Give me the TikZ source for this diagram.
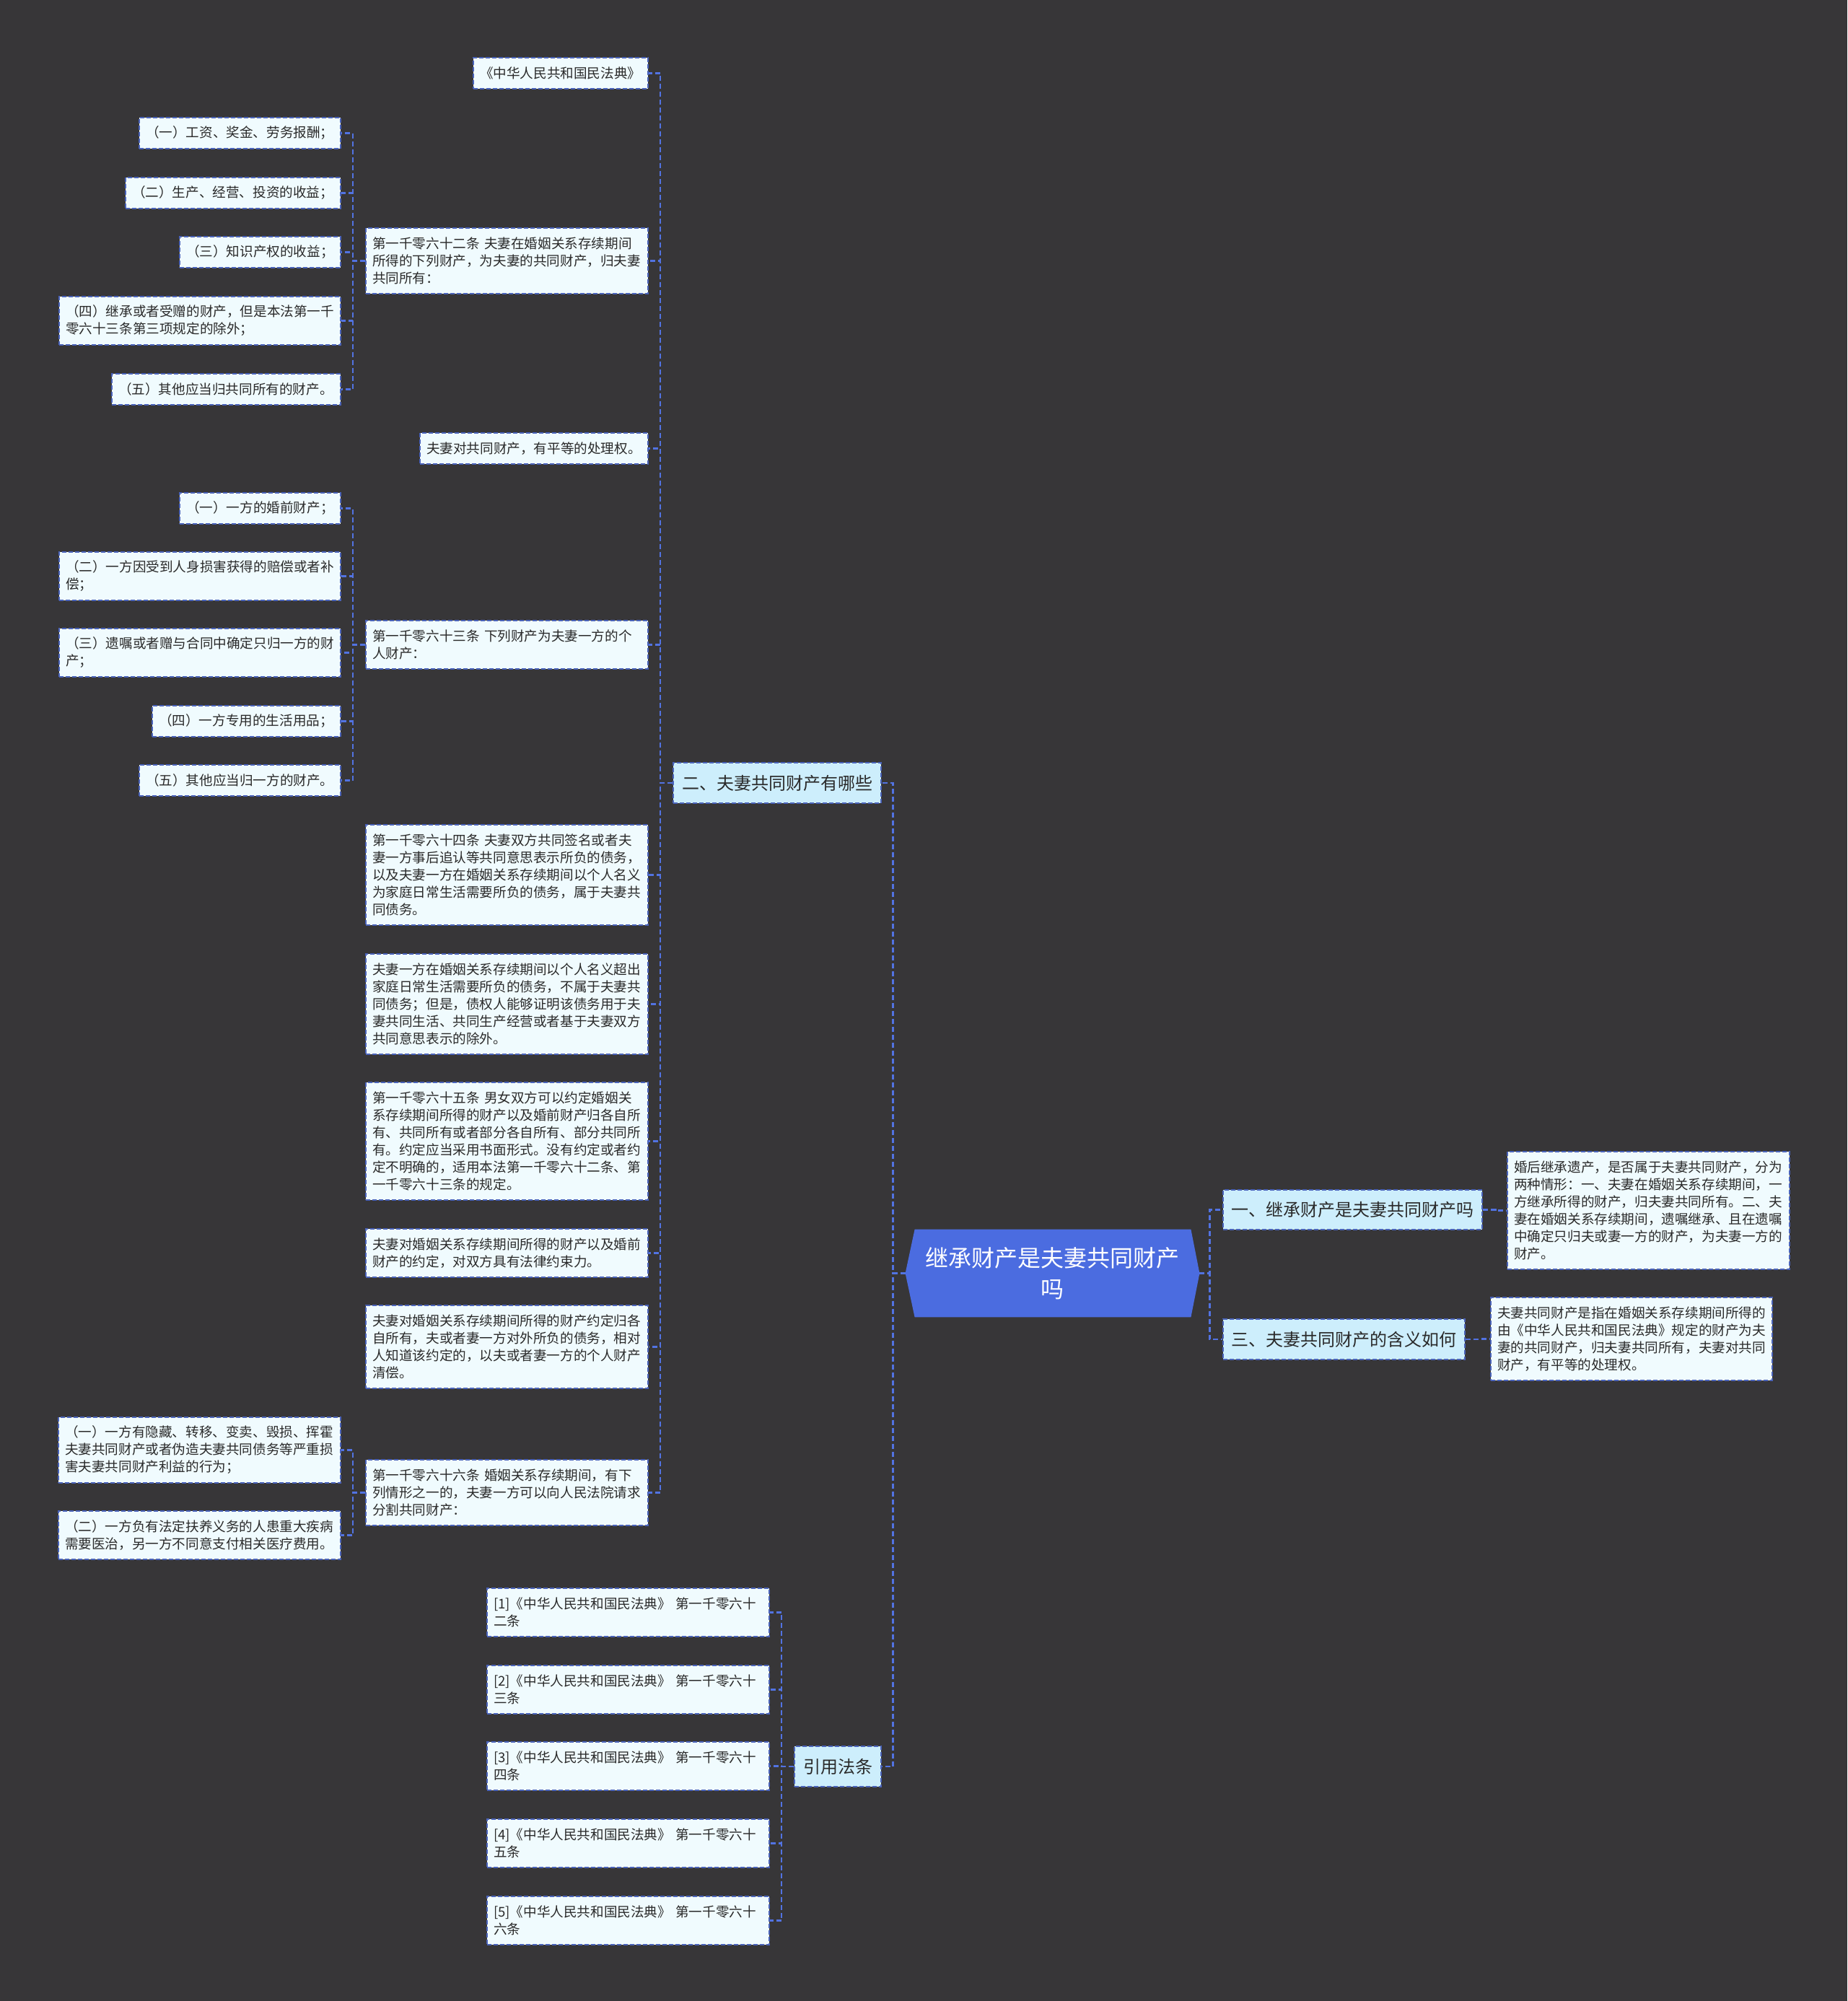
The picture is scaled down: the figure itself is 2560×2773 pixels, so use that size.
\documentclass[tikz,border=0pt]{standalone}
\usepackage{fontspec}
\setmainfont{Noto Sans CJK SC}
\definecolor{bgc}{HTML}{373638}
\definecolor{rootc}{HTML}{4B6CE0}
\definecolor{bordc}{HTML}{4A63BA}
\definecolor{connc}{HTML}{5273E2}
\definecolor{leaff}{HTML}{F0FBFE}
\definecolor{topf}{HTML}{CDEEFC}
\definecolor{txtc}{HTML}{2A2A2A}
\pgfdeclarelayer{background}
\pgfsetlayers{background,main}
\begin{document}
\begin{tikzpicture}[x=0.5pt,y=-0.5pt,
  leaf/.style={draw=bordc, dash pattern=on 3pt off 1.5pt, line width=1pt, fill=leaff,
    text=txtc, anchor=north west, align=left, inner xsep=4.5pt, inner ysep=0pt,
    font=\fontsize{9.3pt}{12pt}\selectfont},
  topic/.style={draw=bordc, dash pattern=on 3pt off 1.5pt, line width=1pt, fill=topf,
    text=txtc, anchor=north west, align=center, inner sep=0pt,
    font=\fontsize{12pt}{14pt}\selectfont},
  rootn/.style={text=white, align=center, inner sep=0pt,
    font=\fontsize{16pt}{21.5pt}\selectfont},
  conn/.style={draw=connc, line width=1.2pt, dash pattern=on 3.5pt off 2pt}
]
\useasboundingbox (0,0) rectangle (2560,2773);

% root
\node[rootn, minimum width=203.5pt, minimum height=60.5pt] (root) at (1458.5,1764.5) {继承财产是夫妻共同财产\\吗};
\begin{pgfonlayer}{background}
\fill[bgc] (0,0) rectangle (2560,2773);
\fill[rootc] (root.west) -- ([xshift=6.5pt]root.north west) -- ([xshift=-6pt]root.north east)
  -- (root.east) -- ([xshift=-6pt]root.south east) -- ([xshift=6.5pt]root.south west) -- cycle;
\end{pgfonlayer}

% level 1
\node[topic, minimum width=144pt, minimum height=28pt] (t2) at (932,1056) {二、夫妻共同财产有哪些};
\node[topic, minimum width=60pt, minimum height=28pt] (tref) at (1100,2419) {引用法条};
\node[topic, minimum width=179.5pt, minimum height=27.5pt] (t1) at (1694,1648) {一、继承财产是夫妻共同财产吗};
\node[topic, minimum width=167.5pt, minimum height=28pt] (t3) at (1694,1827) {三、夫妻共同财产的含义如何};

% right details
\node[leaf, text width=186.5pt, minimum height=81.5pt] (ra) at (2088,1595) {婚后继承遗产，是否属于夫妻共同财产，分为\\两种情形：一、夫妻在婚姻关系存续期间，一\\方继承所得的财产，归夫妻共同所有。二、夫\\妻在婚姻关系存续期间，遗嘱继承、且在遗嘱\\中确定只归夫或妻一方的财产，为夫妻一方的\\财产。};
\node[leaf, text width=186pt, minimum height=57.5pt] (rb) at (2065,1797) {夫妻共同财产是指在婚姻关系存续期间所得的\\由《中华人民共和国民法典》规定的财产为夫\\妻的共同财产，归夫妻共同所有，夫妻对共同\\财产，有平等的处理权。};

% level 2 under t2
\node[leaf, text width=112pt, minimum height=21.5pt] (n1) at (655,79) {《中华人民共和国民法典》};
\node[leaf, text width=186.5pt, minimum height=45.5pt] (n2) at (506,315) {第一千零六十二条~夫妻在婚姻关系存续期间\\所得的下列财产，为夫妻的共同财产，归夫妻\\共同所有：};
\node[leaf, text width=149pt, minimum height=21.5pt] (n3) at (581,599) {夫妻对共同财产，有平等的处理权。};
\node[leaf, text width=186.5pt, minimum height=33.5pt] (n4) at (506,859) {第一千零六十三条~下列财产为夫妻一方的个\\人财产：};
\node[leaf, text width=186.5pt, minimum height=69.5pt] (n5) at (506,1142) {第一千零六十四条~夫妻双方共同签名或者夫\\妻一方事后追认等共同意思表示所负的债务，\\以及夫妻一方在婚姻关系存续期间以个人名义\\为家庭日常生活需要所负的债务，属于夫妻共\\同债务。};
\node[leaf, text width=186.5pt, minimum height=69.5pt] (n6) at (506,1321) {夫妻一方在婚姻关系存续期间以个人名义超出\\家庭日常生活需要所负的债务，不属于夫妻共\\同债务；但是，债权人能够证明该债务用于夫\\妻共同生活、共同生产经营或者基于夫妻双方\\共同意思表示的除外。};
\node[leaf, text width=186.5pt, minimum height=81.5pt] (n7) at (506,1499) {第一千零六十五条~男女双方可以约定婚姻关\\系存续期间所得的财产以及婚前财产归各自所\\有、共同所有或者部分各自所有、部分共同所\\有。约定应当采用书面形式。没有约定或者约\\定不明确的，适用本法第一千零六十二条、第\\一千零六十三条的规定。};
\node[leaf, text width=186.5pt, minimum height=33.5pt] (n8) at (506,1702) {夫妻对婚姻关系存续期间所得的财产以及婚前\\财产的约定，对双方具有法律约束力。};
\node[leaf, text width=186.5pt, minimum height=57.5pt] (n9) at (506,1808) {夫妻对婚姻关系存续期间所得的财产约定归各\\自所有，夫或者妻一方对外所负的债务，相对\\人知道该约定的，以夫或者妻一方的个人财产\\清偿。};
\node[leaf, text width=186.5pt, minimum height=45.5pt] (n10) at (506,2022) {第一千零六十六条~婚姻关系存续期间，有下\\列情形之一的，夫妻一方可以向人民法院请求\\分割共同财产：};

% level 3 under n2
\node[leaf, text width=130.5pt, minimum height=21.5pt] (a1) at (192,162) {（一）工资、奖金、劳务报酬；};
\node[leaf, text width=140pt, minimum height=21.5pt] (a2) at (173,245) {（二）生产、经营、投资的收益；};
\node[leaf, text width=102.5pt, minimum height=21.5pt] (a3) at (248,327) {（三）知识产权的收益；};
\node[leaf, text width=186pt, minimum height=33.5pt] (a4) at (81,410) {（四）继承或者受赠的财产，但是本法第一千\\零六十三条第三项规定的除外；};
\node[leaf, text width=149.5pt, minimum height=21.5pt] (a5) at (154,517) {（五）其他应当归共同所有的财产。};

% level 3 under n4
\node[leaf, text width=102.5pt, minimum height=21.5pt] (b1) at (248,682) {（一）一方的婚前财产；};
\node[leaf, text width=186pt, minimum height=33.5pt] (b2) at (81,764) {（二）一方因受到人身损害获得的赔偿或者补\\偿；};
\node[leaf, text width=186pt, minimum height=33.5pt] (b3) at (81,870) {（三）遗嘱或者赠与合同中确定只归一方的财\\产；};
\node[leaf, text width=121.5pt, minimum height=21.5pt] (b4) at (210,977) {（四）一方专用的生活用品；};
\node[leaf, text width=130.5pt, minimum height=21.5pt] (b5) at (192,1059) {（五）其他应当归一方的财产。};

% level 3 under n10
\node[leaf, text width=186.5pt, minimum height=45.5pt] (c1) at (80,1963) {（一）一方有隐藏、转移、变卖、毁损、挥霍\\夫妻共同财产或者伪造夫妻共同债务等严重损\\害夫妻共同财产利益的行为；};
\node[leaf, text width=186.5pt, minimum height=33.5pt] (c2) at (80,2093) {（二）一方负有法定扶养义务的人患重大疾病\\需要医治，另一方不同意支付相关医疗费用。};

% references
\node[leaf, text width=186.5pt, minimum height=33.5pt] (r1) at (674,2200) {[1]《中华人民共和国民法典》~第一千零六十\\二条};
\node[leaf, text width=186.5pt, minimum height=33.5pt] (r2) at (674,2307) {[2]《中华人民共和国民法典》~第一千零六十\\三条};
\node[leaf, text width=186.5pt, minimum height=33.5pt] (r3) at (674,2413) {[3]《中华人民共和国民法典》~第一千零六十\\四条};
\node[leaf, text width=186.5pt, minimum height=33.5pt] (r4) at (674,2520) {[4]《中华人民共和国民法典》~第一千零六十\\五条};
\node[leaf, text width=186.5pt, minimum height=33.5pt] (r5) at (674,2627) {[5]《中华人民共和国民法典》~第一千零六十\\六条};

% connectors: root
\foreach \c in {t2,tref} \draw[conn] (root.west) -- ++(-8.5pt,0) |- (\c.east);
\foreach \c in {t1,t3} \draw[conn] (root.east) -- ++(7pt,0) |- (\c.west);
\draw[conn] (t1.east) -- ++(8.75pt,0) |- (ra.west);
\draw[conn] (t3.east) -- ++(9pt,0) |- (rb.west);
% connectors: t2
\foreach \c in {n1,n2,n3,n4,n5,n6,n7,n8,n9,n10} \draw[conn] (t2.west) -- ++(-8.5pt,0) |- (\c.east);
\foreach \c in {a1,a2,a3,a4,a5} \draw[conn] (n2.west) -- ++(-8.5pt,0) |- (\c.east);
\foreach \c in {b1,b2,b3,b4,b5} \draw[conn] (n4.west) -- ++(-8.5pt,0) |- (\c.east);
\foreach \c in {c1,c2} \draw[conn] (n10.west) -- ++(-8.5pt,0) |- (\c.east);
\foreach \c in {r1,r2,r3,r4,r5} \draw[conn] (tref.west) -- ++(-8.5pt,0) |- (\c.east);
\end{tikzpicture}
\end{document}
